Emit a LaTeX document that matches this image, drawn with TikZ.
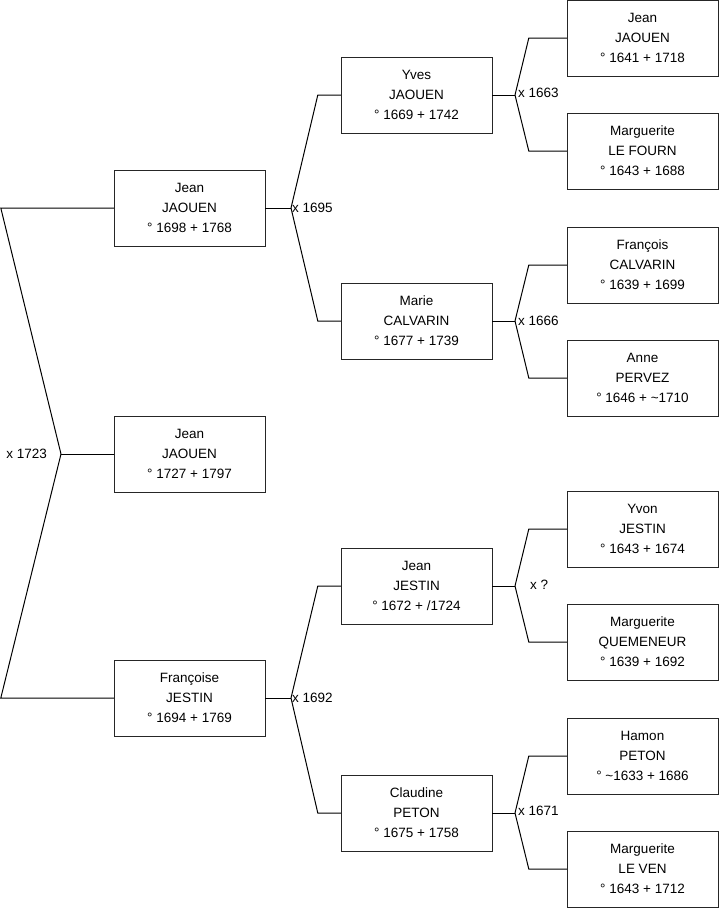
\documentclass[tikz,border=0pt]{standalone}
\usepackage{fontspec}
\setmainfont{Liberation Sans}
\usetikzlibrary{positioning}
\tikzset{
  pers/.style={draw=black!85, fill=white, align=center,
               minimum width=151pt, minimum height=76pt, inner sep=0pt,
               font=\fontsize{13.5}{20}\selectfont},
  ln/.style={black, line width=1pt},
  mar/.style={font=\fontsize{13.5}{16}\selectfont, inner sep=1pt}
}

\begin{document}
\begin{tikzpicture}[x=1pt, y=-1pt]
  \useasboundingbox (0,0) rectangle (719,908);
  % great-grandparents
  \node[pers] (jean41)   at (642.5,38)  {Jean\\JAOUEN\\° 1641 + 1718};
  \node[pers] (marg43)   at (642.5,151) {Marguerite\\LE FOURN\\° 1643 + 1688};
  \node[pers] (franc39)  at (642.5,265) {François\\CALVARIN\\° 1639 + 1699};
  \node[pers] (anne46)   at (642.5,378) {Anne\\PERVEZ\\° 1646 + \textasciitilde1710};
  \node[pers] (yvon43)   at (642.5,529) {Yvon\\JESTIN\\° 1643 + 1674};
  \node[pers] (quem39)   at (642.5,642) {Marguerite\\QUEMENEUR\\° 1639 + 1692};
  \node[pers] (hamon33)  at (642.5,756) {Hamon\\PETON\\° \textasciitilde1633 + 1686};
  \node[pers] (leven43)  at (642.5,869) {Marguerite\\LE VEN\\° 1643 + 1712};
  % grandparents
  \node[pers] (yves69)   at (416.5,95)  {Yves\\JAOUEN\\° 1669 + 1742};
  \node[pers] (marie77)  at (416.5,321) {Marie\\CALVARIN\\° 1677 + 1739};
  \node[pers] (jean72)   at (416.5,586) {Jean\\JESTIN\\° 1672 + /1724};
  \node[pers] (claud75)  at (416.5,813) {Claudine\\PETON\\° 1675 + 1758};
  % parents and child
  \node[pers] (jean98)   at (189.5,208) {Jean\\JAOUEN\\° 1698 + 1768};
  \node[pers] (jean27)   at (189.5,454) {Jean\\JAOUEN\\° 1727 + 1797};
  \node[pers] (franc94)  at (189.5,698) {Françoise\\JESTIN\\° 1694 + 1769};
  % marriages
  \coordinate (m1663) at (515,95);
  \coordinate (m1666) at (515,321);
  \coordinate (mq)    at (515,586);
  \coordinate (m1671) at (515,813);
  \coordinate (m1695) at (291,208);
  \coordinate (m1692) at (291,698);
  \coordinate (m1723) at (61,454);

  \draw[ln] (jean41.west) -- ++(-38,0) -- (m1663);
  \draw[ln] (marg43.west) -- ++(-38,0) -- (m1663);
  \draw[ln] (m1663) -- (yves69.east);
  \node[mar, right=2pt, yshift=2pt] (l1663) at (m1663) {x 1663};

  \draw[ln] (franc39.west) -- ++(-38,0) -- (m1666);
  \draw[ln] (anne46.west) -- ++(-38,0) -- (m1666);
  \draw[ln] (m1666) -- (marie77.east);
  \node[mar, right=2pt] (l1666) at (m1666) {x 1666};

  \draw[ln] (yvon43.west) -- ++(-38,0) -- (mq);
  \draw[ln] (quem39.west) -- ++(-38,0) -- (mq);
  \draw[ln] (mq) -- (jean72.east);
  \node[mar, right=14pt, yshift=1pt] (lq) at (mq) {x ?};

  \draw[ln] (hamon33.west) -- ++(-38,0) -- (m1671);
  \draw[ln] (leven43.west) -- ++(-38,0) -- (m1671);
  \draw[ln] (m1671) -- (claud75.east);
  \node[mar, right=2pt, yshift=2pt] (l1671) at (m1671) {x 1671};

  \draw[ln] (yves69.west) -- ++(-23,0) -- (m1695);
  \draw[ln] (marie77.west) -- ++(-23,0) -- (m1695);
  \draw[ln] (m1695) -- (jean98.east);
  \node[mar, right] (l1695) at (m1695) {x 1695};

  \draw[ln] (jean72.west) -- ++(-23,0) -- (m1692);
  \draw[ln] (claud75.west) -- ++(-23,0) -- (m1692);
  \draw[ln] (m1692) -- (franc94.east);
  \node[mar, right] (l1692) at (m1692) {x 1692};

  \draw[ln] (jean98.west) -- ++(-113,0) -- (m1723);
  \draw[ln] (franc94.west) -- ++(-113,0) -- (m1723);
  \draw[ln] (m1723) -- (jean27.west);
  \node[mar, left=13pt] (l1723) at (m1723) {x 1723};
\end{tikzpicture}
\end{document}
